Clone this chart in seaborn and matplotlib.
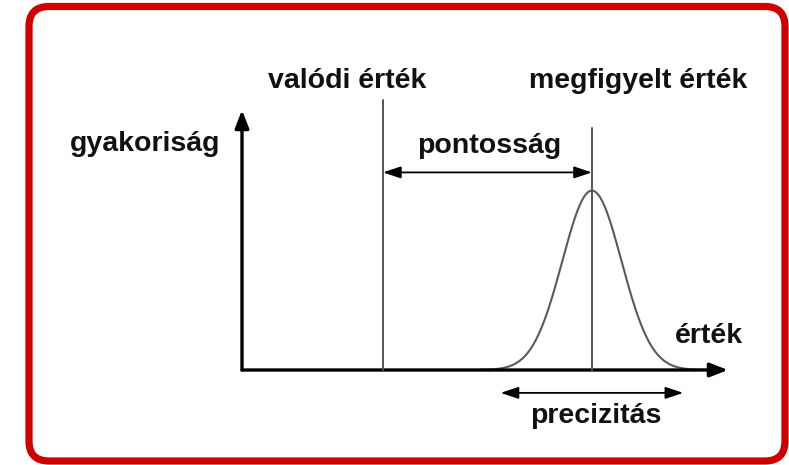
import numpy as np
import pandas as pd
import matplotlib
matplotlib.use("Agg")
import matplotlib.pyplot as plt
from matplotlib.patches import FancyBboxPatch
import seaborn as sns

# Diagram quantities (value axis 0..10, frequency axis 0..1)
true_value = 2.9
observed_value = 7.2
spread_sd = 0.61
peak_height = 0.69
precision_half_width = 1.88

labels = {
    "true": "valódi érték",
    "observed": "megfigyelt érték",
    "yaxis": "gyakoriság",
    "xaxis": "érték",
    "accuracy": "pontosság",
    "precision": "precizitás",
}

sns.set_theme(style="white")
plt.rcParams["font.family"] = ["Liberation Sans", "DejaVu Sans"]

W, H = 789, 465
fig = plt.figure(figsize=(W / 100, H / 100), dpi=100)

# Full-figure pixel canvas for the rounded frame and labels
canvas = fig.add_axes([0, 0, 1, 1])
canvas.set_xlim(0, W)
canvas.set_ylim(H, 0)
canvas.axis("off")
frame = FancyBboxPatch((29 + 20, 6.5 + 20), 756 - 40, 454.5 - 40,
                       boxstyle="round,pad=20", linewidth=5.2,
                       edgecolor="#cf0000", facecolor="white", zorder=0)
canvas.add_patch(frame)

# Chart axes: origin at pixel (242, 370), x to 728, y to 110
x0, x1, y0, y1 = 242, 728, 370, 110
ax = fig.add_axes([x0 / W, 1 - y0 / H, (x1 - x0) / W, (y0 - y1) / H])
ax.set_xlim(0, 10)
ax.set_ylim(0, 1)
ax.axis("off")
ax.patch.set_alpha(0)

# Value and frequency axes with arrowheads
axis_arrow = dict(arrowstyle="-|>,head_length=0.9,head_width=0.35",
                  color="black", lw=2.4, shrinkA=0, shrinkB=0)
ax.annotate("", xy=(10, 0), xytext=(0, 0), arrowprops=axis_arrow,
            annotation_clip=False)
ax.annotate("", xy=(0, 1), xytext=(0, 0), arrowprops=axis_arrow,
            annotation_clip=False)

# Frequency distribution of observations
xs = np.linspace(4.9, 9.7, 500)
dist = pd.DataFrame({
    "x": xs,
    "y": peak_height * np.exp(-0.5 * ((xs - observed_value) / spread_sd) ** 2),
})
sns.lineplot(data=dist, x="x", y="y", ax=ax, color="#5a5a5a", lw=1.5,
             zorder=2)

# Reference lines for true and observed value
ax.plot([true_value, true_value], [0, 1.04], color="#555555", lw=1.4,
        clip_on=False, zorder=3)
ax.plot([observed_value, observed_value], [0, 0.93], color="#555555",
        lw=1.4, clip_on=False, zorder=3)

# Accuracy and precision spans
span_arrow = dict(arrowstyle="<|-|>,head_length=0.9,head_width=0.3",
                  color="black", lw=1.3, shrinkA=0, shrinkB=0)
ax.annotate("", xy=(observed_value, 0.76), xytext=(true_value, 0.76),
            arrowprops=span_arrow, annotation_clip=False)
ax.annotate("", xy=(observed_value + precision_half_width, -0.088),
            xytext=(observed_value - precision_half_width, -0.088),
            arrowprops=span_arrow, annotation_clip=False)

# Labels
txt = dict(fontsize=20.5, color="#111111", va="baseline", fontweight="bold")
canvas.text(347, 88, labels["true"], ha="center", **txt)
canvas.text(638, 88, labels["observed"], ha="center", **txt)
canvas.text(145, 151, labels["yaxis"], ha="center", **txt)
canvas.text(489, 153, labels["accuracy"], ha="center", **txt)
canvas.text(709, 343, labels["xaxis"], ha="center", **txt)
canvas.text(596, 423, labels["precision"], ha="center", **txt)

fig.savefig("out.png", dpi=100)
